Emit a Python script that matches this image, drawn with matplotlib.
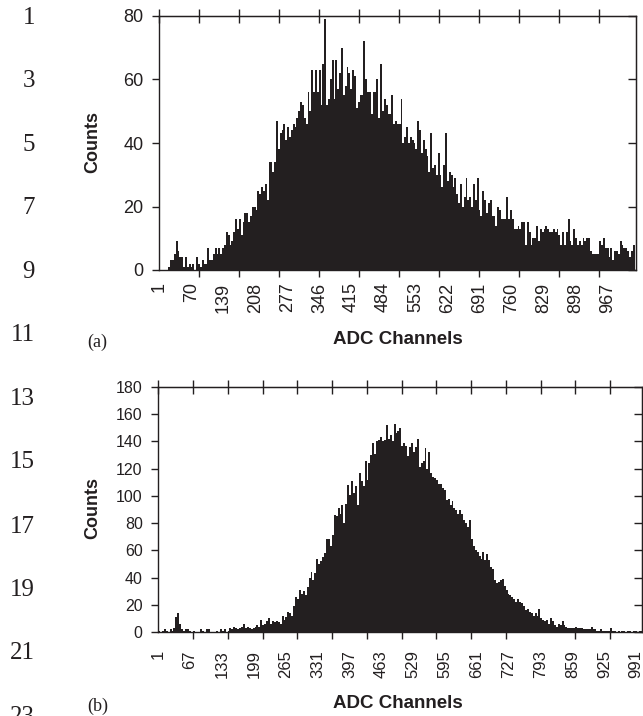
import numpy as np
import matplotlib.pyplot as plt

plt.rcParams['font.family'] = ['Liberation Sans', 'DejaVu Sans']

# counts, grouped 4 ADC channels per bar
bin_w = 4

counts_a = [0, 0, 0, 0, 0, 1, 3, 3, 5, 9,
            6, 4, 4, 1, 4, 1, 2, 1, 2, 0,
            4, 2, 1, 3, 2, 2, 7, 3, 3, 5,
            7, 5, 7, 5, 7, 8, 12, 11, 8, 9,
            12, 16, 13, 16, 11, 15, 18, 18, 15, 17,
            20, 20, 19, 25, 24, 26, 25, 27, 22, 34,
            34, 31, 34, 47, 38, 43, 44, 46, 41, 45,
            42, 44, 46, 45, 48, 50, 53, 52, 48, 46,
            56, 50, 63, 56, 63, 56, 63, 52, 65, 79,
            52, 54, 60, 66, 54, 66, 57, 62, 70, 55,
            58, 64, 62, 57, 63, 61, 51, 53, 55, 55,
            72, 60, 56, 56, 49, 56, 56, 60, 48, 65,
            50, 54, 52, 49, 49, 55, 46, 47, 46, 46,
            54, 40, 42, 45, 40, 42, 41, 40, 38, 47,
            44, 37, 41, 38, 36, 31, 43, 32, 33, 30,
            37, 30, 26, 33, 43, 28, 31, 30, 26, 29,
            24, 21, 27, 20, 23, 29, 22, 23, 20, 27,
            22, 29, 19, 17, 25, 22, 18, 21, 22, 17,
            17, 14, 20, 19, 16, 16, 16, 23, 16, 19,
            16, 13, 13, 14, 13, 15, 15, 8, 15, 12,
            8, 10, 10, 14, 9, 13, 12, 13, 14, 13,
            12, 12, 13, 12, 13, 11, 8, 12, 8, 12,
            16, 9, 8, 13, 10, 8, 9, 8, 10, 9,
            10, 10, 6, 5, 5, 5, 5, 9, 8, 10,
            7, 7, 4, 7, 3, 6, 6, 5, 9, 8,
            7, 7, 6, 4, 6, 8]

counts_b = [1, 0, 1, 2, 1, 0, 2, 1, 3, 11,
            14, 6, 2, 1, 2, 2, 1, 0, 1, 0,
            0, 0, 2, 1, 0, 2, 2, 0, 0, 0,
            1, 0, 2, 1, 2, 0, 1, 3, 2, 4,
            3, 2, 3, 4, 6, 3, 4, 3, 2, 3,
            4, 5, 4, 9, 5, 6, 8, 10, 6, 8,
            7, 8, 7, 6, 12, 9, 11, 15, 14, 12,
            19, 26, 24, 31, 28, 30, 27, 33, 40, 44,
            38, 43, 54, 50, 52, 55, 58, 68, 68, 63,
            71, 86, 85, 91, 87, 93, 80, 94, 108, 101,
            111, 102, 107, 93, 117, 111, 107, 126, 112, 124,
            130, 139, 131, 140, 141, 143, 140, 141, 152, 142,
            145, 140, 153, 146, 148, 150, 137, 139, 137, 129,
            136, 139, 132, 136, 142, 121, 124, 126, 135, 120,
            132, 117, 114, 113, 112, 109, 109, 106, 104, 97,
            98, 93, 96, 91, 90, 87, 90, 87, 82, 80,
            77, 82, 68, 63, 60, 59, 56, 54, 59, 53,
            57, 53, 48, 46, 38, 36, 37, 38, 39, 34,
            31, 28, 27, 26, 24, 22, 24, 22, 21, 19,
            16, 17, 15, 14, 12, 14, 12, 17, 10, 9,
            8, 9, 6, 10, 8, 5, 4, 6, 5, 8,
            5, 4, 3, 3, 3, 3, 4, 3, 3, 3,
            2, 2, 2, 2, 4, 2, 2, 1, 1, 2,
            1, 1, 1, 1, 3, 1, 1, 0, 1, 0,
            1, 1, 0, 1, 1, 0, 1, 1, 0, 1, 1]

labels_a = [1, 70, 139, 208, 277, 346, 415, 484, 553, 622, 691, 760, 829, 898, 967]
labels_b = [1, 67, 133, 199, 265, 331, 397, 463, 529, 595, 661, 727, 793, 859, 925, 991]

dark = '#231f20'
W, H = 643, 716


def panel(rect, counts, labels, mark_step, xmax, ymax, ystep, pad, xsize, ysize):
    ax = fig.add_axes(rect)
    x = np.arange(len(counts)) * bin_w + 0.5
    ax.bar(x, counts, width=bin_w, align='edge', color=dark, linewidth=0)
    ax.set_xlim(0.5, xmax)
    ax.set_ylim(0, ymax)
    for s in ax.spines.values():
        s.set_color(dark)
        s.set_linewidth(1.0)
    # labelled channels carry no tick mark, the marks sit on their own grid
    ax.set_xticks(labels)
    ax.set_xticklabels([str(v) for v in labels], rotation=90)
    ax.tick_params(axis='x', which='major', length=0, pad=pad, labelsize=xsize, labelcolor=dark)
    marks = np.arange(1, xmax, mark_step)
    ax.set_xticks(marks, minor=True)
    ax.tick_params(axis='x', which='minor', direction='out', length=5, width=1, color=dark)
    ax.set_yticks(np.arange(0, ymax + 1, ystep))
    ax.tick_params(axis='y', direction='out', length=5, width=1, color=dark,
                   labelsize=ysize, labelcolor=dark, pad=6)
    top = ax.secondary_xaxis('top')
    top.set_xticks(marks)
    top.tick_params(direction='inout', length=10, width=1, color=dark, labeltop=False)
    top.spines['top'].set_color(dark)
    right = ax.secondary_yaxis('right')
    right.set_yticks(np.arange(0, ymax + 1, ystep))
    right.tick_params(direction='in', length=6, width=1, color=dark, labelright=False)
    right.spines['right'].set_color(dark)
    return ax


fig = plt.figure(figsize=(W / 100, H / 100), dpi=100)

panel([159 / W, 1 - 270 / H, 477 / W, 254 / H], counts_a, labels_a, 86, 1027.5, 80, 20, 9, 13, 13)
panel([158 / W, 1 - 632 / H, 484 / W, 245 / H], counts_b, labels_b, 72, 1003, 180, 20, 13, 12, 11.5)

# axis titles
fig.text(398 / W, 1 - 340 / H, 'ADC Channels', ha='center', va='center',
         fontsize=13.5, fontweight='bold', color=dark)
fig.text(398 / W, 1 - 704 / H, 'ADC Channels', ha='center', va='center',
         fontsize=13.5, fontweight='bold', color=dark)
fig.text(93 / W, 1 - 142 / H, 'Counts', ha='center', va='center', rotation=90,
         fontsize=13, fontweight='bold', color=dark)
fig.text(93 / W, 1 - 508 / H, 'Counts', ha='center', va='center', rotation=90,
         fontsize=13, fontweight='bold', color=dark)

# panel tags and page line numbers
fig.text(87 / W, 1 - 342 / H, '(a)', ha='left', va='center',
         family='Liberation Serif', fontsize=13, color=dark)
fig.text(87 / W, 1 - 706 / H, '(b)', ha='left', va='center',
         family='Liberation Serif', fontsize=13, color=dark)
line_no = [1, 3, 5, 7, 9, 11, 13, 15, 17, 19, 21, 23]
line_y = [18, 81, 145, 208, 272, 335, 399, 462, 527, 590, 653, 717]
for n, y in zip(line_no, line_y):
    fig.text(35 / W, 1 - y / H, str(n), ha='right', va='center',
             family='Liberation Serif', fontsize=18, color=dark)

fig.savefig('out.png', dpi=100)
